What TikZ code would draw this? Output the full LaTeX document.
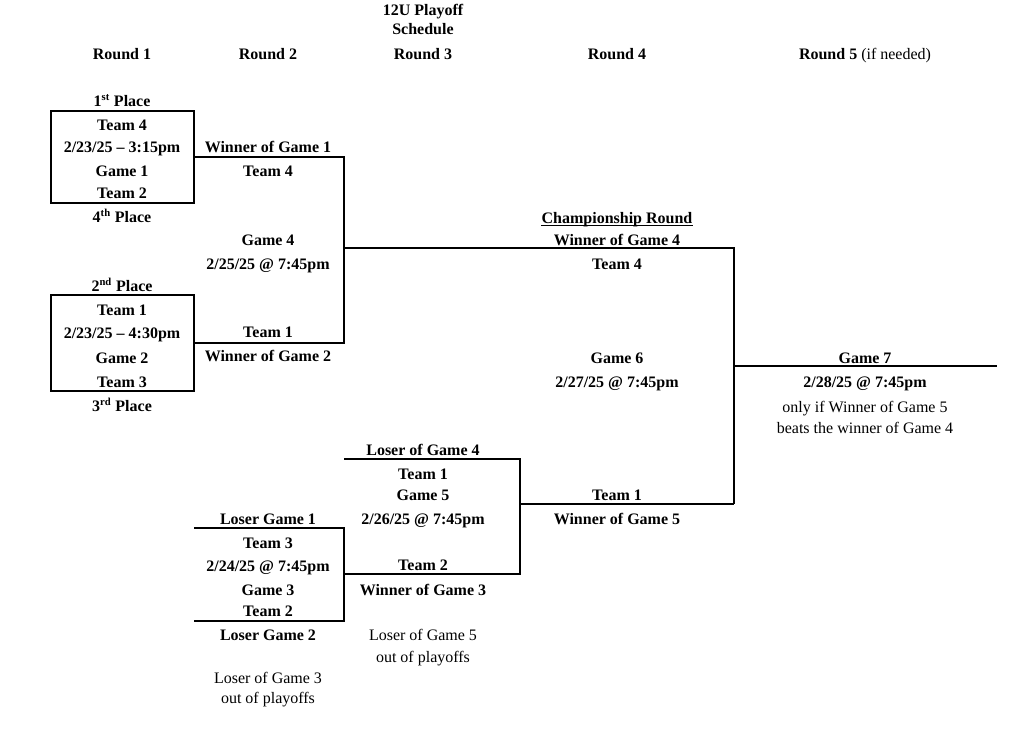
\documentclass[tikz,border=0pt]{standalone}
\usepackage{fontspec}
\setmainfont{Liberation Serif}
\begin{document}
\begin{tikzpicture}[x=0.75pt,y=-0.75pt,
  lbl/.style={font=\fontsize{12}{14}\selectfont\bfseries,inner sep=0pt,anchor=base,yshift=-1.1pt},
  plain/.style={font=\fontsize{12}{14}\selectfont,inner sep=0pt,anchor=base,yshift=-1.1pt},
  gamebox/.style={draw,line width=1.3pt,minimum width=143*0.75pt,inner sep=0pt},
  wire/.style={line width=1.3pt}]
\useasboundingbox (0,0) rectangle (1024,741);
% headers
\node[lbl] (title1) at (423,14) {12U Playoff};
\node[lbl] (title2) at (423,33) {Schedule};
\node[lbl] (r1) at (122,58) {Round 1};
\node[lbl] (r2) at (268,58) {Round 2};
\node[lbl] (r3) at (423,58) {Round 3};
\node[lbl] (r4) at (617,58) {Round 4};
\node[lbl] (r5) at (865,58) {Round 5 \mdseries(if needed)};
% Game 1 box
\node[gamebox,minimum height=92*0.75pt] (box1) at (122.5,157) {};
\node[lbl] (p1) at (122,105) {1\textsuperscript{st} Place};
\node[lbl] (g1a) at (122,129) {Team 4};
\node[lbl] (g1b) at (122,151) {2/23/25 -- 3:15pm};
\node[lbl] (g1c) at (122,175) {Game 1};
\node[lbl] (g1d) at (122,197) {Team 2};
\node[lbl] (p4) at (122,221) {4\textsuperscript{th} Place};
% Game 2 box
\node[gamebox,minimum height=96*0.75pt] (box2) at (122.5,343) {};
\node[lbl] (p2) at (122,290) {2\textsuperscript{nd} Place};
\node[lbl] (g2a) at (122,314) {Team 1};
\node[lbl] (g2b) at (122,337) {2/23/25 -- 4:30pm};
\node[lbl] (g2c) at (122,362) {Game 2};
\node[lbl] (g2d) at (122,386) {Team 3};
\node[lbl] (p3) at (122,410) {3\textsuperscript{rd} Place};
% Game 4
\node[lbl] (w1) at (268,151) {Winner of Game 1};
\node[lbl] (g4a) at (268,175) {Team 4};
\node[lbl] (g4b) at (268,244) {Game 4};
\node[lbl] (g4c) at (268,268) {2/25/25 @ 7:45pm};
\node[lbl] (g4d) at (268,336) {Team 1};
\node[lbl] (w2) at (268,360) {Winner of Game 2};
\coordinate (g4top) at (344,157);
\coordinate (g4bot) at (344,343);
\coordinate (g4out) at (344,248);
\draw[wire] (box1.east) -- (g4top) -- (g4bot) -- (box2.east);
% Game 6
\node[lbl] (champ) at (617,222) {Championship Round};
\draw[line width=0.8pt] ([yshift=-1.6pt]champ.base west) -- ([yshift=-1.6pt]champ.base east);
\node[lbl] (w4) at (617,244) {Winner of Game 4};
\node[lbl] (g6a) at (617,268) {Team 4};
\node[lbl] (g6b) at (617,362) {Game 6};
\node[lbl] (g6c) at (617,386) {2/27/25 @ 7:45pm};
\node[lbl] (g6d) at (617,499) {Team 1};
\node[lbl] (w5) at (617,523) {Winner of Game 5};
\coordinate (g6top) at (734,248);
\coordinate (g6bot) at (734,504);
\coordinate (g6out) at (734,366);
\draw[wire] (g4out) -- (g6top) -- (g6bot);
% Game 7
\node[lbl] (g7a) at (865,362) {Game 7};
\node[lbl] (g7b) at (865,386) {2/28/25 @ 7:45pm};
\node[plain] (g7c) at (865,411) {only if Winner of Game 5};
\node[plain] (g7d) at (865,432) {beats the winner of Game 4};
\coordinate (g7end) at (997,366);
\draw[wire] (g6out) -- (g7end);
% Game 3
\node[lbl] (l1) at (268,523) {Loser Game 1};
\node[lbl] (g3a) at (268,547) {Team 3};
\node[lbl] (g3b) at (268,570) {2/24/25 @ 7:45pm};
\node[lbl] (g3c) at (268,594) {Game 3};
\node[lbl] (g3d) at (268,615) {Team 2};
\node[lbl] (l2) at (268,639) {Loser Game 2};
\node[plain] (o3a) at (268,682) {Loser of Game 3};
\node[plain] (o3b) at (268,702) {out of playoffs};
\coordinate (g3tl) at (194,528);
\coordinate (g3tr) at (344,528);
\coordinate (g3br) at (344,621);
\coordinate (g3bl) at (194,621);
\coordinate (g3out) at (344,574);
\draw[wire] (g3tl) -- (g3tr) -- (g3br) -- (g3bl);
% Game 5
\node[lbl] (l4) at (423,454) {Loser of Game 4};
\node[lbl] (g5a) at (423,478) {Team 1};
\node[lbl] (g5b) at (423,499) {Game 5};
\node[lbl] (g5c) at (423,523) {2/26/25 @ 7:45pm};
\node[lbl] (g5d) at (423,569) {Team 2};
\node[lbl] (w3) at (423,594) {Winner of Game 3};
\node[plain] (o5a) at (423,639) {Loser of Game 5};
\node[plain] (o5b) at (423,661) {out of playoffs};
\coordinate (g5tl) at (344,459);
\coordinate (g5tr) at (520,459);
\coordinate (g5br) at (520,574);
\coordinate (g5out) at (520,504);
\draw[wire] (g5tl) -- (g5tr) -- (g5br) -- (g3out);
\draw[wire] (g5out) -- (g6bot);
\end{tikzpicture}
\end{document}
